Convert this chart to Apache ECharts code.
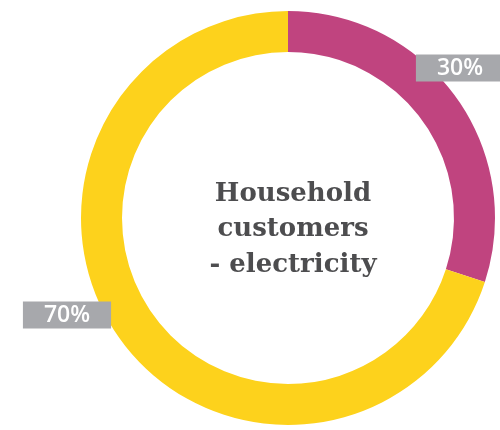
<!DOCTYPE html>
<html><head><meta charset="utf-8">
<script src="https://cdn.jsdelivr.net/npm/echarts@6/dist/echarts.min.js"></script>
<style>html,body{margin:0;padding:0;background:#fff}#c{width:500px;height:430px}</style>
</head><body><div id="c"></div>
<script>
var categories = ['Other', 'Household'];
var values = [30, 70];
var colors = ['#C0447F', '#FDD21C'];
var centerTitle = 'Household\ncustomers\n- electricity';
var labelSpots = [[460, 68], [67, 315]];

var chart = echarts.init(document.getElementById('c'), null, {renderer: 'canvas'});
chart.setOption({
  animation: false,
  title: {
    text: centerTitle,
    left: 288, top: 171, textAlign: 'center',
    textStyle: {fontFamily: 'DejaVu Serif', fontWeight: 'bold', fontSize: 26, lineHeight: 35.5, color: '#4D4D4F'}
  },
  series: [{
    type: 'pie',
    center: [288, 218],
    radius: [166, 207],
    startAngle: 90,
    clockwise: true,
    silent: true,
    labelLine: {show: false},
    label: {
      show: true,
      position: 'inside',
      overflow: 'none',
      formatter: '{c}%',
      color: '#fff',
      fontFamily: 'Open Sans',
      fontWeight: 600,
      fontSize: 23,
      backgroundColor: '#A7A8AC',
      padding: [1, 21, 0, 21],
      height: 26,
      lineHeight: 26
    },
    labelLayout: function (p) {
      var s = labelSpots[p.dataIndex];
      return {x: s[0], y: s[1], align: 'center', verticalAlign: 'middle'};
    },
    data: categories.map(function (c, i) {
      return {name: c, value: values[i], itemStyle: {color: colors[i]}};
    })
  }]
});
</script></body></html>
